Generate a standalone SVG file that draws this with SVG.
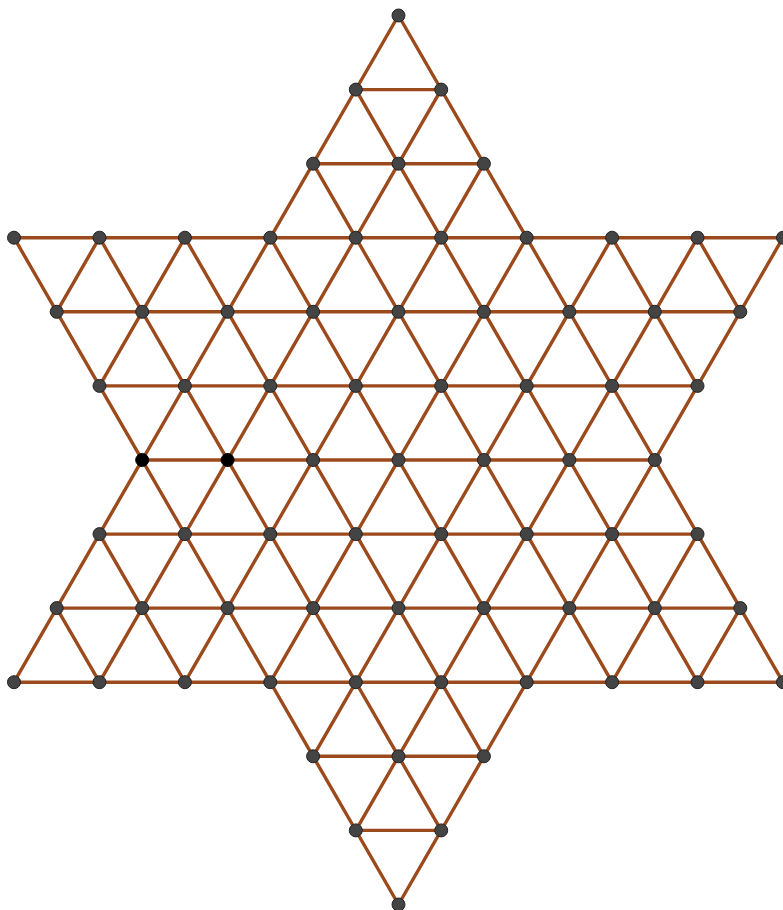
<svg xmlns="http://www.w3.org/2000/svg" width="783" height="910" viewBox="0 0 783 910">
<style>
.e{stroke:#9c4a1c;stroke-width:3.4;fill:none;stroke-linecap:round}
.n{fill:#444;stroke:#222;stroke-width:1}
.b{fill:#000;stroke:#000;stroke-width:1}
</style>
<rect width="783" height="910" fill="#fff"/>
<g id="connectors" class="e">
<line x1="355.8" y1="89.6" x2="441.2" y2="89.6"/>
<line x1="313.1" y1="163.7" x2="483.9" y2="163.7"/>
<line x1="14" y1="237.7" x2="783" y2="237.7"/>
<line x1="56.7" y1="311.8" x2="740.3" y2="311.8"/>
<line x1="99.5" y1="385.9" x2="697.5" y2="385.9"/>
<line x1="142.2" y1="460" x2="654.8" y2="460"/>
<line x1="99.5" y1="534.1" x2="697.5" y2="534.1"/>
<line x1="56.7" y1="608.1" x2="740.3" y2="608.1"/>
<line x1="14" y1="682.2" x2="783" y2="682.2"/>
<line x1="313.1" y1="756.3" x2="483.9" y2="756.3"/>
<line x1="355.8" y1="830.4" x2="441.2" y2="830.4"/>
<line x1="697.5" y1="237.7" x2="740.3" y2="311.8"/>
<line x1="612.1" y1="237.7" x2="697.5" y2="385.9"/>
<line x1="398.5" y1="15.5" x2="783" y2="682.2"/>
<line x1="355.8" y1="89.6" x2="697.5" y2="682.2"/>
<line x1="313.1" y1="163.7" x2="612.1" y2="682.2"/>
<line x1="270.3" y1="237.7" x2="526.7" y2="682.2"/>
<line x1="184.9" y1="237.7" x2="483.9" y2="756.3"/>
<line x1="99.5" y1="237.7" x2="441.2" y2="830.4"/>
<line x1="14" y1="237.7" x2="398.5" y2="904.5"/>
<line x1="99.5" y1="534.1" x2="184.9" y2="682.2"/>
<line x1="56.7" y1="608.1" x2="99.5" y2="682.2"/>
<line x1="99.5" y1="237.7" x2="56.7" y2="311.8"/>
<line x1="184.9" y1="237.7" x2="99.5" y2="385.9"/>
<line x1="398.5" y1="15.5" x2="14" y2="682.2"/>
<line x1="441.2" y1="89.6" x2="99.5" y2="682.2"/>
<line x1="483.9" y1="163.7" x2="184.9" y2="682.2"/>
<line x1="526.7" y1="237.7" x2="270.3" y2="682.2"/>
<line x1="612.1" y1="237.7" x2="313.1" y2="756.3"/>
<line x1="697.5" y1="237.7" x2="355.8" y2="830.4"/>
<line x1="783" y1="237.7" x2="398.5" y2="904.5"/>
<line x1="697.5" y1="534.1" x2="612.1" y2="682.2"/>
<line x1="740.3" y1="608.1" x2="697.5" y2="682.2"/>
</g>
<g id="nodes">
<g id="n0-0"><circle class="n" cx="398.5" cy="15.5" r="6.5"/></g>
<g id="n1-1"><circle class="n" cx="355.8" cy="89.6" r="6.5"/></g>
<g id="n1-2"><circle class="n" cx="441.2" cy="89.6" r="6.5"/></g>
<g id="n2-1"><circle class="n" cx="313.1" cy="163.7" r="6.5"/></g>
<g id="n2-2"><circle class="n" cx="398.5" cy="163.7" r="6.5"/></g>
<g id="n2-3"><circle class="n" cx="483.9" cy="163.7" r="6.5"/></g>
<g id="n3-1"><circle class="n" cx="14" cy="237.7" r="6.5"/></g>
<g id="n3-2"><circle class="n" cx="99.5" cy="237.7" r="6.5"/></g>
<g id="n3-3"><circle class="n" cx="184.9" cy="237.7" r="6.5"/></g>
<g id="n3-4"><circle class="n" cx="270.3" cy="237.7" r="6.5"/></g>
<g id="n3-5"><circle class="n" cx="355.8" cy="237.7" r="6.5"/></g>
<g id="n3-6"><circle class="n" cx="441.2" cy="237.7" r="6.5"/></g>
<g id="n3-7"><circle class="n" cx="526.7" cy="237.7" r="6.5"/></g>
<g id="n3-8"><circle class="n" cx="612.1" cy="237.7" r="6.5"/></g>
<g id="n3-9"><circle class="n" cx="697.5" cy="237.7" r="6.5"/></g>
<g id="n3-10"><circle class="n" cx="783" cy="237.7" r="6.5"/></g>
<g id="n4-1"><circle class="n" cx="56.7" cy="311.8" r="6.5"/></g>
<g id="n4-2"><circle class="n" cx="142.2" cy="311.8" r="6.5"/></g>
<g id="n4-3"><circle class="n" cx="227.6" cy="311.8" r="6.5"/></g>
<g id="n4-4"><circle class="n" cx="313.1" cy="311.8" r="6.5"/></g>
<g id="n4-5"><circle class="n" cx="398.5" cy="311.8" r="6.5"/></g>
<g id="n4-6"><circle class="n" cx="483.9" cy="311.8" r="6.5"/></g>
<g id="n4-7"><circle class="n" cx="569.4" cy="311.8" r="6.5"/></g>
<g id="n4-8"><circle class="n" cx="654.8" cy="311.8" r="6.5"/></g>
<g id="n4-9"><circle class="n" cx="740.3" cy="311.8" r="6.5"/></g>
<g id="n5-1"><circle class="n" cx="99.5" cy="385.9" r="6.5"/></g>
<g id="n5-2"><circle class="n" cx="184.9" cy="385.9" r="6.5"/></g>
<g id="n5-3"><circle class="n" cx="270.3" cy="385.9" r="6.5"/></g>
<g id="n5-4"><circle class="n" cx="355.8" cy="385.9" r="6.5"/></g>
<g id="n5-5"><circle class="n" cx="441.2" cy="385.9" r="6.5"/></g>
<g id="n5-6"><circle class="n" cx="526.7" cy="385.9" r="6.5"/></g>
<g id="n5-7"><circle class="n" cx="612.1" cy="385.9" r="6.5"/></g>
<g id="n5-8"><circle class="n" cx="697.5" cy="385.9" r="6.5"/></g>
<g id="n6-1"><circle class="b" cx="142.2" cy="460" r="6.5"/></g>
<g id="n6-2"><circle class="b" cx="227.6" cy="460" r="6.5"/></g>
<g id="n6-3"><circle class="n" cx="313.1" cy="460" r="6.5"/></g>
<g id="n6-4"><circle class="n" cx="398.5" cy="460" r="6.5"/></g>
<g id="n6-5"><circle class="n" cx="483.9" cy="460" r="6.5"/></g>
<g id="n6-6"><circle class="n" cx="569.4" cy="460" r="6.5"/></g>
<g id="n6-7"><circle class="n" cx="654.8" cy="460" r="6.5"/></g>
<g id="n7-1"><circle class="n" cx="99.5" cy="534.1" r="6.5"/></g>
<g id="n7-2"><circle class="n" cx="184.9" cy="534.1" r="6.5"/></g>
<g id="n7-3"><circle class="n" cx="270.3" cy="534.1" r="6.5"/></g>
<g id="n7-4"><circle class="n" cx="355.8" cy="534.1" r="6.5"/></g>
<g id="n7-5"><circle class="n" cx="441.2" cy="534.1" r="6.5"/></g>
<g id="n7-6"><circle class="n" cx="526.7" cy="534.1" r="6.5"/></g>
<g id="n7-7"><circle class="n" cx="612.1" cy="534.1" r="6.5"/></g>
<g id="n7-8"><circle class="n" cx="697.5" cy="534.1" r="6.5"/></g>
<g id="n8-1"><circle class="n" cx="56.7" cy="608.1" r="6.5"/></g>
<g id="n8-2"><circle class="n" cx="142.2" cy="608.1" r="6.5"/></g>
<g id="n8-3"><circle class="n" cx="227.6" cy="608.1" r="6.5"/></g>
<g id="n8-4"><circle class="n" cx="313.1" cy="608.1" r="6.5"/></g>
<g id="n8-5"><circle class="n" cx="398.5" cy="608.1" r="6.5"/></g>
<g id="n8-6"><circle class="n" cx="483.9" cy="608.1" r="6.5"/></g>
<g id="n8-7"><circle class="n" cx="569.4" cy="608.1" r="6.5"/></g>
<g id="n8-8"><circle class="n" cx="654.8" cy="608.1" r="6.5"/></g>
<g id="n8-9"><circle class="n" cx="740.3" cy="608.1" r="6.5"/></g>
<g id="n9-1"><circle class="n" cx="14" cy="682.2" r="6.5"/></g>
<g id="n9-2"><circle class="n" cx="99.5" cy="682.2" r="6.5"/></g>
<g id="n9-3"><circle class="n" cx="184.9" cy="682.2" r="6.5"/></g>
<g id="n9-4"><circle class="n" cx="270.3" cy="682.2" r="6.5"/></g>
<g id="n9-5"><circle class="n" cx="355.8" cy="682.2" r="6.5"/></g>
<g id="n9-6"><circle class="n" cx="441.2" cy="682.2" r="6.5"/></g>
<g id="n9-7"><circle class="n" cx="526.7" cy="682.2" r="6.5"/></g>
<g id="n9-8"><circle class="n" cx="612.1" cy="682.2" r="6.5"/></g>
<g id="n9-9"><circle class="n" cx="697.5" cy="682.2" r="6.5"/></g>
<g id="n9-10"><circle class="n" cx="783" cy="682.2" r="6.5"/></g>
<g id="n10-1"><circle class="n" cx="313.1" cy="756.3" r="6.5"/></g>
<g id="n10-2"><circle class="n" cx="398.5" cy="756.3" r="6.5"/></g>
<g id="n10-3"><circle class="n" cx="483.9" cy="756.3" r="6.5"/></g>
<g id="n11-1"><circle class="n" cx="355.8" cy="830.4" r="6.5"/></g>
<g id="n11-2"><circle class="n" cx="441.2" cy="830.4" r="6.5"/></g>
<g id="n12-1"><circle class="n" cx="398.5" cy="904.5" r="6.5"/></g>
</g>
</svg>
